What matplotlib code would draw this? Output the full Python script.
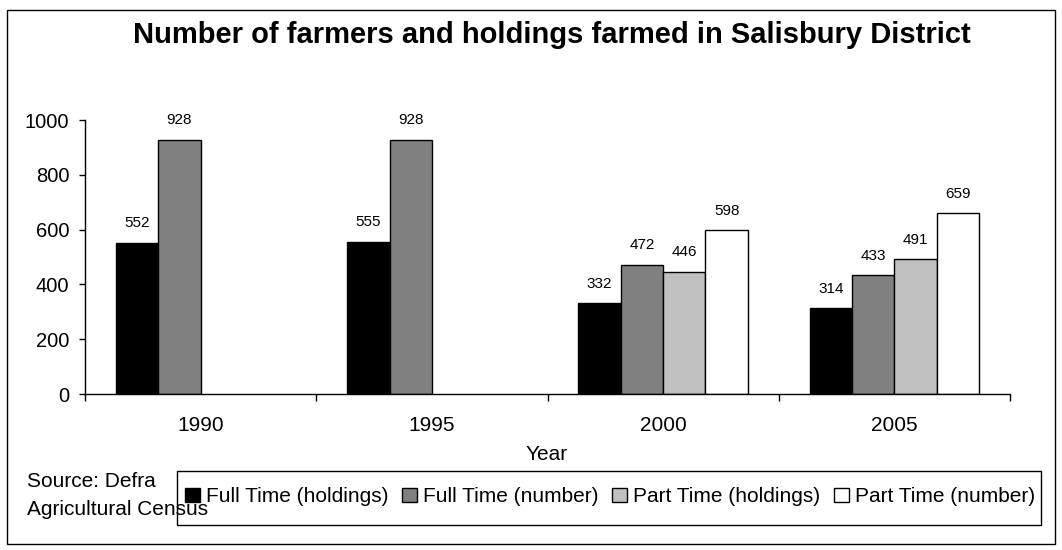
import numpy as np
import matplotlib.pyplot as plt
from matplotlib.patches import Rectangle

plt.rcParams['font.family'] = ['Liberation Sans', 'DejaVu Sans']

years = ["1990", "1995", "2000", "2005"]
series = ["Full Time (holdings)", "Full Time (number)", "Part Time (holdings)", "Part Time (number)"]
ft_holdings = [552, 555, 332, 314]
ft_number = [928, 928, 472, 433]
pt_holdings = [np.nan, np.nan, 446, 491]
pt_number = [np.nan, np.nan, 598, 659]
colors = ["#000000", "#808080", "#c0c0c0", "#ffffff"]

W, H = 1062, 550
fig = plt.figure(figsize=(W/100, H/100), dpi=100)
ax = fig.add_axes([85/W, 1-394/H, 925/W, 274/H])

x = np.arange(len(years))
w = 0.183
for i, vals in enumerate([ft_holdings, ft_number, pt_holdings, pt_number]):
    pos = x + (i - 1.5) * w
    ax.bar(pos, vals, w, color=colors[i], edgecolor="black", linewidth=1, label=series[i])
    for p, v in zip(pos, vals):
        if not np.isnan(v):
            ax.annotate(str(v), (p, v), xytext=(0, 14), textcoords="offset points",
                        ha="center", va="center", fontsize=11)

ax.set_xlim(-0.5, 3.5)
ax.set_ylim(0, 1000)
ax.set_yticks(range(0, 1001, 200))
ax.set_xticks(x)
ax.set_xticklabels(years)
ax.set_xticks(np.arange(-0.5, 4, 1), minor=True)
ax.tick_params(axis="x", which="major", length=0, pad=15.5, labelsize=15)
ax.tick_params(axis="x", which="minor", length=4.7, width=1)
ax.tick_params(axis="y", length=4.3, width=1, labelsize=14.5, pad=7)
for s in ["top", "right"]:
    ax.spines[s].set_visible(False)
for s in ["left", "bottom"]:
    ax.spines[s].set_linewidth(1)

fig.text(552/W, 1-35/H, "Number of farmers and holdings farmed in Salisbury District",
         ha="center", va="center", fontsize=21, fontweight="bold")
fig.text(546.5/W, 1-455/H, "Year", ha="center", va="center", fontsize=15)
fig.text(27/W, 1-487/H, "Source: Defra", ha="left", va="baseline", fontsize=15)
fig.text(27/W, 1-515/H, "Agricultural Census", ha="left", va="baseline", fontsize=15)

# legend entries without frame, box drawn separately
leg = fig.legend(loc="center", bbox_to_anchor=(610/W, 1-497/H), ncol=4, fontsize=15,
                 frameon=False, handlelength=0.72, handleheight=0.63, handletextpad=0.29,
                 columnspacing=0.64, borderpad=0.0)
fig.patches.append(Rectangle((177/W, 1-525/H), 864/W, 54/H, transform=fig.transFigure,
                             fill=False, edgecolor="black", linewidth=1))

# outer chart border
fig.patches.append(Rectangle((7/W, 6/H), 1048/W, 534/H, transform=fig.transFigure,
                             fill=False, edgecolor="black", linewidth=1))

fig.savefig("out.png", dpi=100)
